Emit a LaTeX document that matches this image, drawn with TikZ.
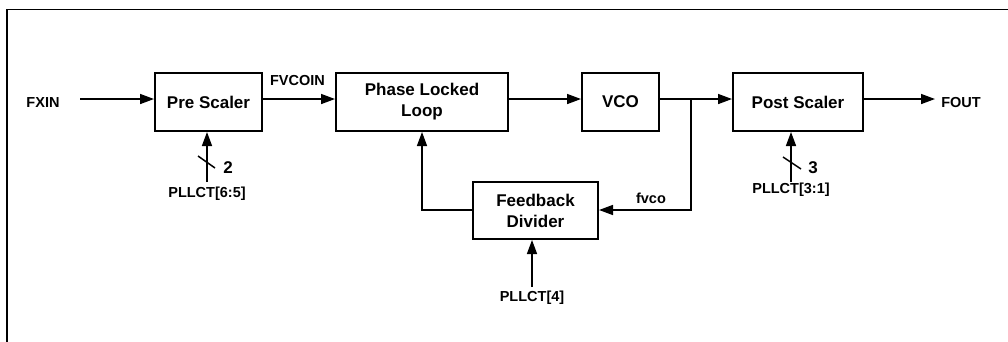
\documentclass[tikz,border=0pt]{standalone}
\usepackage{fontspec}
\setmainfont{Liberation Sans}
\usetikzlibrary{arrows.meta}
\begin{document}
\begin{tikzpicture}[x=1pt,y=-1pt,
  blk/.style={draw,line width=2pt,minimum height=58pt,inner sep=0pt,align=center,font=\fontsize{17}{21}\selectfont\bfseries},
  lbl/.style={inner sep=0pt,font=\fontsize{14.5}{17}\selectfont\bfseries},
  num/.style={inner sep=0pt,font=\fontsize{17}{20}\selectfont\bfseries},
  conn/.style={line width=1.5pt},
  arr/.style={conn,-{Triangle[length=14pt,width=10pt]}}]
\useasboundingbox (0,0) rectangle (1008,341);
% frame
\draw[line width=1.4pt] (7,345) -- (7,9.5) -- (1012,9.5);
% blocks
\node[blk,minimum width=107pt] (pre) at (208.5,102) {Pre Scaler};
\node[blk,minimum width=172pt] (pll) at (422,102) {Phase Locked\\Loop};
\node[blk,minimum width=77pt] (vco) at (620.5,102) {VCO};
\node[blk,minimum width=130pt] (post) at (798,102) {Post Scaler};
\node[blk,minimum width=125pt,minimum height=57pt] (fd) at (535.5,210.5) {Feedback\\Divider};
% labels
\node[lbl] (fxin) at (43,103) {FXIN};
\node[lbl] (fvcoin) at (297.5,81) {FVCOIN};
\node[lbl] (fout) at (961,103) {FOUT};
\node[lbl] (fvco) at (651,198) {fvco};
\node[lbl] (c65) at (207,194) {PLLCT[6:5]};
\node[lbl] (c31) at (791,190) {PLLCT[3:1]};
\node[lbl] (c4) at (532,298) {PLLCT[4]};
\node[num] (n2) at (228,168) {2};
\node[num] (n3) at (813,168) {3};
% coordinates
\coordinate (row) at (0,99);
\coordinate (fxinend) at (80,99);
\coordinate (foutend) at (935,99);
\coordinate (jn) at (691,99);
\coordinate (jd) at (691,210);
\coordinate (fbl) at (422,210);
\coordinate (pre0) at (207,182);
\coordinate (post0) at (791,182);
\coordinate (fd0) at (532,287);
% connectors
\draw[arr] (fxinend) -- (pre.west|-row);
\draw[arr] (pre.east|-row) -- (pll.west|-row);
\draw[arr] (pll.east|-row) -- (vco.west|-row);
\draw[arr] (vco.east|-row) -- (post.west|-row);
\draw[arr] (post.east|-row) -- (foutend);
\draw[arr] (jn) -- (jd) -- (fd.east|-jd);
\draw[arr] (fd.west|-fbl) -- (fbl) -- (fbl|-pll.south);
\draw[arr] (pre0) -- (pre0|-pre.south);
\draw[arr] (post0) -- (post0|-post.south);
\draw[arr] (fd0) -- (fd0|-fd.south);
% bus slashes
\draw[conn] (198,156) -- (215,168);
\draw[conn] (783,157) -- (801,169);
\end{tikzpicture}
\end{document}
